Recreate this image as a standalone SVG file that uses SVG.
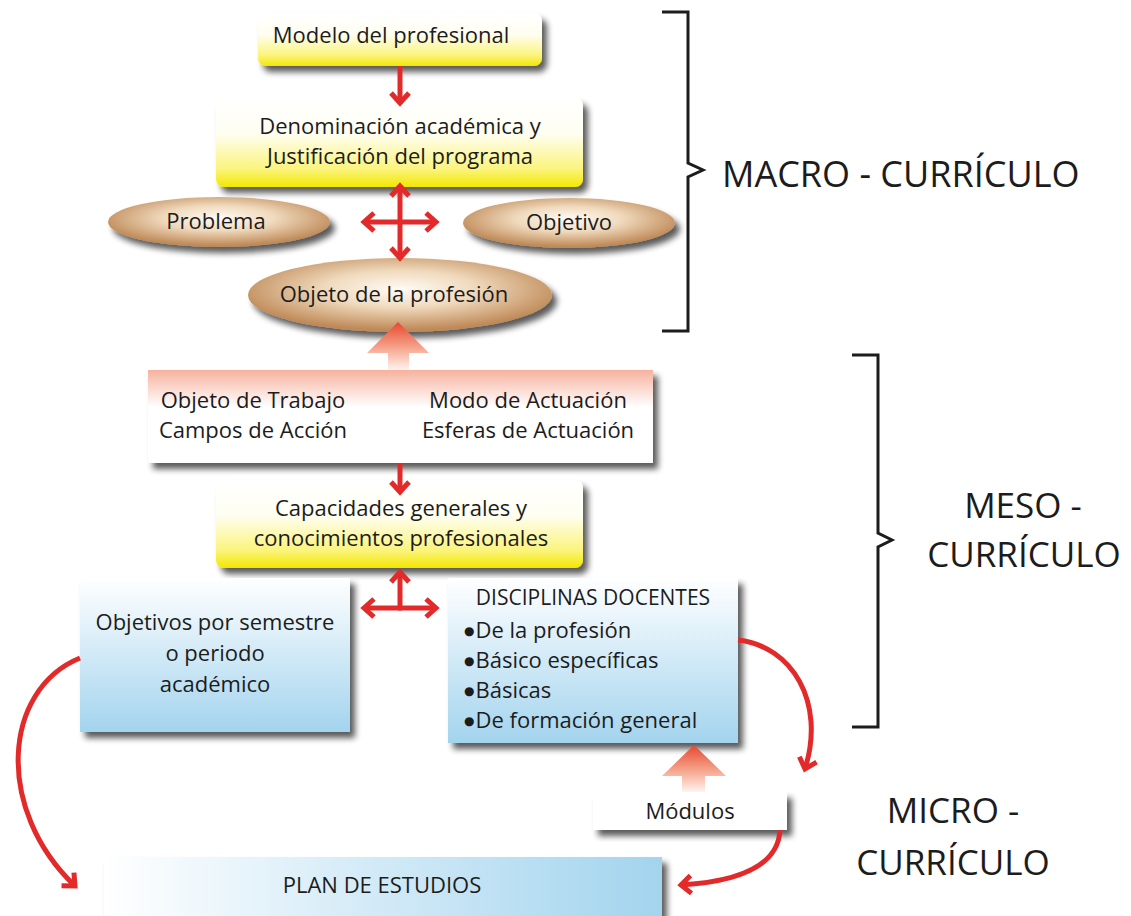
<svg xmlns="http://www.w3.org/2000/svg" width="1131" height="916" viewBox="0 0 1131 916">
<style>
.t{font-family:"Open Sans","Liberation Sans",sans-serif;font-size:22px;fill:#1c1c1c}
.c{text-anchor:middle}
.b{font-family:"DejaVu Sans",sans-serif;font-size:12px}
.big{font-family:"Open Sans","Liberation Sans",sans-serif;font-size:36px;fill:#1c1c1c}
.red{fill:none;stroke:#e22a2a;stroke-width:5}
.br{fill:none;stroke:#1c1c1c;stroke-width:3}
</style>
<defs>
<linearGradient id="yel" x1="0" y1="0" x2="0" y2="1">
<stop offset="0" stop-color="#ffffff"/><stop offset="0.4" stop-color="#fffef2"/><stop offset="0.8" stop-color="#fbf47c"/><stop offset="1" stop-color="#f3e700"/>
</linearGradient>
<linearGradient id="blu" x1="0" y1="0" x2="0" y2="1">
<stop offset="0" stop-color="#ffffff"/><stop offset="1" stop-color="#a3d4ee"/>
</linearGradient>
<linearGradient id="bluh" x1="0" y1="0" x2="1" y2="0">
<stop offset="0" stop-color="#ffffff"/><stop offset="1" stop-color="#a3d4ee"/>
</linearGradient>
<linearGradient id="pnk" x1="0" y1="0" x2="0" y2="1">
<stop offset="0" stop-color="#f6b29e"/><stop offset="0.4" stop-color="#ffffff"/><stop offset="1" stop-color="#ffffff"/>
</linearGradient>
<linearGradient id="arr" x1="0" y1="0" x2="0" y2="1">
<stop offset="0" stop-color="#e6472f"/><stop offset="0.55" stop-color="#f6a68e"/><stop offset="1" stop-color="#fff3ee"/>
</linearGradient>
<radialGradient id="tan" cx="0.5" cy="0.42" r="0.55">
<stop offset="0" stop-color="#fffbf5"/><stop offset="0.45" stop-color="#f0dabd"/><stop offset="1" stop-color="#bf8a58"/>
</radialGradient>
<filter id="sh" x="-10%" y="-15%" width="125%" height="145%">
<feGaussianBlur in="SourceAlpha" stdDeviation="3"/><feOffset dx="5" dy="6"/>
<feComponentTransfer><feFuncA type="linear" slope="0.65"/></feComponentTransfer>
<feMerge><feMergeNode/><feMergeNode in="SourceGraphic"/></feMerge>
</filter>
<marker id="ah" markerUnits="userSpaceOnUse" markerWidth="30" markerHeight="30" viewBox="-15 -15 30 30" refX="0" refY="0" orient="auto">
<path d="M-10,-9 L0,0 L-10,9" fill="none" stroke="#e22a2a" stroke-width="5"/>
</marker>
</defs>

<g id="modelo">
<rect x="258" y="13" width="284" height="53" rx="8" fill="url(#yel)" filter="url(#sh)"/>
<text class="t c" x="391" y="43">Modelo del profesional</text>
</g>
<g id="denominacion">
<rect x="216" y="98" width="367" height="89" rx="8" fill="url(#yel)" filter="url(#sh)"/>
<text class="t c" x="400" y="134">Denominación académica y</text>
<text class="t c" x="400" y="164">Justificación del programa</text>
</g>
<g id="problema">
<ellipse cx="219" cy="222" rx="111" ry="25" fill="url(#tan)" filter="url(#sh)"/>
<text class="t c" x="216" y="229">Problema</text>
</g>
<g id="objetivo">
<ellipse cx="569" cy="223" rx="106" ry="25" fill="url(#tan)" filter="url(#sh)"/>
<text class="t c" x="569" y="230">Objetivo</text>
</g>
<g id="objeto-profesion">
<ellipse cx="400" cy="295" rx="152" ry="37" fill="url(#tan)" filter="url(#sh)"/>
<text class="t c" x="394" y="302">Objeto de la profesión</text>
</g>
<g id="objeto-trabajo">
<rect x="148" y="370" width="505" height="93" fill="url(#pnk)" filter="url(#sh)"/>
<text class="t c" x="253" y="408">Objeto de Trabajo</text>
<text class="t c" x="253" y="438">Campos de Acción</text>
<text class="t c" x="528" y="408">Modo de Actuación</text>
<text class="t c" x="528" y="438">Esferas de Actuación</text>
</g>
<g id="capacidades">
<rect x="216" y="480" width="367" height="88" rx="8" fill="url(#yel)" filter="url(#sh)"/>
<text class="t c" x="401" y="516">Capacidades generales y</text>
<text class="t c" x="401" y="546">conocimientos profesionales</text>
</g>
<g id="objetivos-semestre">
<rect x="80" y="578" width="270" height="154" fill="url(#blu)" filter="url(#sh)"/>
<text class="t c" x="215" y="630">Objetivos por semestre</text>
<text class="t c" x="215" y="661">o periodo</text>
<text class="t c" x="215" y="692">académico</text>
</g>
<g id="disciplinas">
<rect x="448" y="578" width="290" height="165" fill="url(#blu)" filter="url(#sh)"/>
<text class="t c" x="593" y="605" style="font-size:21px">DISCIPLINAS DOCENTES</text>
<text class="t" x="464" y="638"><tspan class="b" dy="-3">●</tspan><tspan dx="1" dy="3">De la profesión</tspan></text>
<text class="t" x="464" y="668"><tspan class="b" dy="-3">●</tspan><tspan dx="1" dy="3">Básico específicas</tspan></text>
<text class="t" x="464" y="698"><tspan class="b" dy="-3">●</tspan><tspan dx="1" dy="3">Básicas</tspan></text>
<text class="t" x="464" y="728"><tspan class="b" dy="-3">●</tspan><tspan dx="1" dy="3">De formación general</tspan></text>
</g>
<g id="modulos">
<rect x="593" y="792" width="194" height="38" fill="#ffffff" filter="url(#sh)"/>
<text class="t c" x="690" y="819">Módulos</text>
</g>
<g id="plan">
<rect x="104" y="857" width="558" height="70" fill="url(#bluh)" filter="url(#sh)"/>
<text class="t c" x="382" y="893">PLAN DE ESTUDIOS</text>
</g>

<g id="connectors">
<path d="M398,322 L429,353 L409,353 L409,370 L388,370 L388,353 L367,353 Z" fill="url(#arr)"/>
<path d="M694,745 L726,776 L705,776 L705,792 L682,792 L682,776 L662,776 Z" fill="url(#arr)"/>
<path class="red" d="M400,66 L400,103" marker-end="url(#ah)"/>
<path class="red" d="M400,224 L400,186" marker-end="url(#ah)"/>
<path class="red" d="M400,220 L400,258" marker-end="url(#ah)"/>
<path class="red" d="M402,222 L364,222" marker-end="url(#ah)"/>
<path class="red" d="M398,222 L436,222" marker-end="url(#ah)"/>
<path class="red" d="M400,463 L400,492" marker-end="url(#ah)"/>
<path class="red" d="M400,610 L400,572" marker-end="url(#ah)"/>
<path class="red" d="M402,608 L364,608" marker-end="url(#ah)"/>
<path class="red" d="M398,608 L436,608" marker-end="url(#ah)"/>
<path class="red" d="M80,658 C2,690 -5,810 75,886" marker-end="url(#ah)"/>
<path class="red" d="M738,640 C792,646 826,702 805,769" marker-end="url(#ah)"/>
<path class="red" d="M780,830 C778,870 730,882 681,885" marker-end="url(#ah)"/>
</g>

<g id="macro">
<path class="br" d="M662,12 H688 V163 L703,170 L688,177 V331 H662"/>
<text class="big" x="722" y="187">MACRO - CURRÍCULO</text>
</g>
<g id="meso">
<path class="br" d="M852,355 H878 V533 L892,540 L878,547 V727 H852"/>
<text class="big c" x="1023" y="518" style="font-size:35px">MESO -</text>
<text class="big c" x="1024" y="567" style="font-size:35px">CURRÍCULO</text>
</g>
<g id="micro">
<text class="big c" x="953" y="823" style="font-size:35px">MICRO -</text>
<text class="big c" x="953" y="875" style="font-size:35px">CURRÍCULO</text>
</g>
</svg>
